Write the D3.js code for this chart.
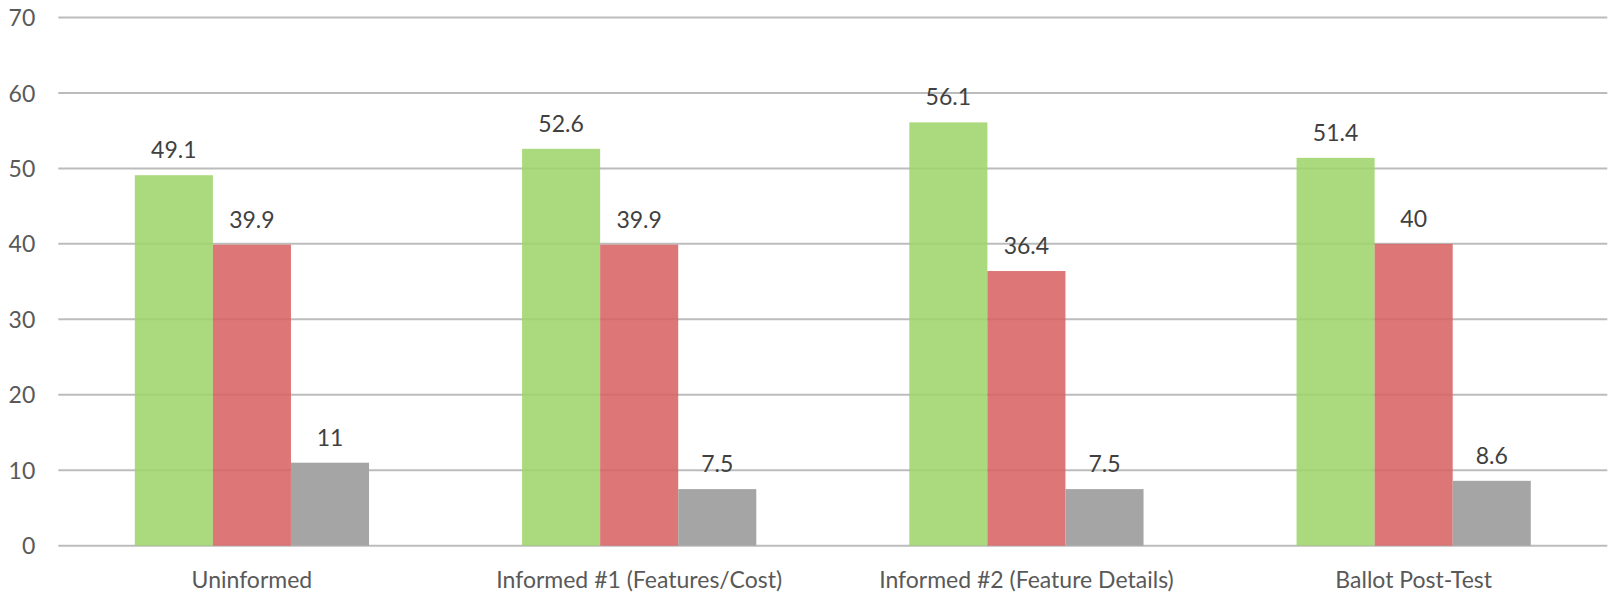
<!DOCTYPE html>
<html>
<head>
<meta charset="utf-8">
<script src="https://cdn.jsdelivr.net/npm/d3@7"></script>
<style>
  html, body { margin: 0; padding: 0; background: #fff; }
  svg { display: block; }
  text { font-family: Lato, "Open Sans", sans-serif; }
</style>
</head>
<body>
<svg id="chart" width="1610" height="596"></svg>
<script>
const categories = ["Uninformed", "Informed #1 (Features/Cost)", "Informed #2 (Feature Details)", "Ballot Post-Test"];
const seriesNames = ["Support", "Oppose", "Undecided"];
const supportValues = [49.1, 52.6, 56.1, 51.4];
const opposeValues = [39.9, 39.9, 36.4, 40];
const undecidedValues = [11, 7.5, 7.5, 8.6];
const yTicks = [0, 10, 20, 30, 40, 50, 60, 70];

const seriesValues = [supportValues, opposeValues, undecidedValues];
const seriesColors = ["#9fd46b", "#d86363", "#a5a5a5"];
const seriesOpacity = [0.88, 0.88, 1];

const W = 1610, H = 596;
const margin = {left: 58.3, right: 2.7, top: 17.5, bottom: 50.3};
const svg = d3.select("#chart");

const x = d3.scaleBand().domain(categories).range([margin.left, W - margin.right]).paddingInner(0).paddingOuter(0);
const xs = d3.scaleBand().domain(seriesNames).range([0, x.bandwidth()]).paddingInner(0).paddingOuter(0.98);
const y = d3.scaleLinear().domain([0, 70]).range([H - margin.bottom, margin.top]);

// gridlines
const grid = svg.append("g").attr("class", "grid");
grid.selectAll("line").data(yTicks).enter().append("line")
  .attr("x1", margin.left).attr("x2", W - margin.right)
  .attr("y1", d => y(d)).attr("y2", d => y(d))
  .attr("stroke", "#bcbcbc").attr("stroke-width", 2);

// y axis labels
const yAxis = d3.axisLeft(y).tickValues(yTicks).tickSize(0).tickPadding(0);
const yg = svg.append("g").attr("transform", `translate(${margin.left - 23},0)`).call(yAxis);
yg.select(".domain").remove();
yg.selectAll("text").attr("fill", "#595959").style("font-size", "23px").style("font-family", "Lato, 'Open Sans', sans-serif").attr("dy", "0.35em");

// bars
const groups = svg.append("g").selectAll("g").data(categories).enter().append("g")
  .attr("transform", d => `translate(${x(d)},0)`);

seriesNames.forEach((s, si) => {
  groups.append("rect")
    .attr("x", xs(s))
    .attr("width", xs.bandwidth())
    .attr("y", (d, ci) => y(seriesValues[si][ci]))
    .attr("height", (d, ci) => y(0) - y(seriesValues[si][ci]))
    .attr("fill", seriesColors[si])
    .attr("fill-opacity", seriesOpacity[si]);
  groups.append("text")
    .attr("x", xs(s) + xs.bandwidth() / 2)
    .attr("y", (d, ci) => y(seriesValues[si][ci]) - 17)
    .attr("text-anchor", "middle")
    .attr("fill", "#404040")
    .style("font-size", "23px")
    .text((d, ci) => seriesValues[si][ci]);
});

// x axis labels
const xAxis = d3.axisBottom(x).tickSize(0).tickPadding(0);
const xg = svg.append("g").attr("transform", `translate(0,${y(0)})`).call(xAxis);
xg.select(".domain").remove();
xg.selectAll("text").attr("fill", "#595959").style("font-size", "23px").style("font-family", "Lato, 'Open Sans', sans-serif").attr("dy", null).attr("y", 42);
</script>
</body>
</html>
